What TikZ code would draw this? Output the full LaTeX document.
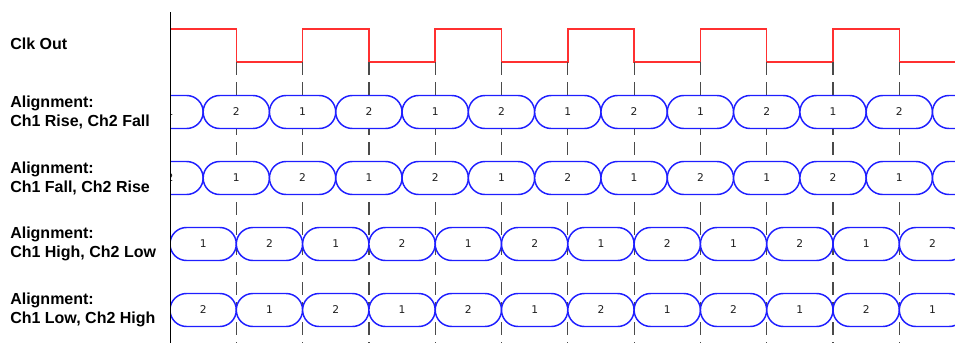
\documentclass[tikz,border=0pt]{standalone}
\usepackage{fontspec}
\setmainfont{Liberation Sans}
\newfontfamily\digitfont{DejaVu Sans}
\usetikzlibrary{shapes.misc}
\definecolor{clkred}{HTML}{FF3030}
\definecolor{ovalblue}{HTML}{1F1FFF}
\definecolor{dashgray}{HTML}{4A4A4A}
\definecolor{digitgray}{HTML}{1E1E1E}
\begin{document}
\begin{tikzpicture}[x=0.75pt,y=-0.75pt,
  lab/.style={anchor=west, align=left, inner sep=0pt, font=\fontsize{12}{14.25}\selectfont\bfseries},
  slot/.style={rounded rectangle, draw=ovalblue, line width=1.1pt, fill=white,
    minimum width=49.725pt, minimum height=24.75pt, inner sep=0pt,
    font=\digitfont\fontsize{8}{9}\selectfont, text=digitgray},
  clk/.style={draw=clkred, line width=1.1pt},
  guide/.style={draw=dashgray, line width=0.9pt, dash pattern=on 10pt off 5pt},
  axisline/.style={draw=black, line width=1.1pt}]
\useasboundingbox (0,0) rectangle (955,343);
\coordinate (bot) at (0,343);
\foreach \k in {0,...,10} {
  \coordinate (e\k) at ({236.3+66.3*\k},62);
  \coordinate (h\k) at ({236.3+66.3*\k},29);
}
% labels
\node[lab] (clklab) at (10,44) {Clk Out};
\node[lab] (l1) at (10,112) {Alignment:\\Ch1 Rise, Ch2 Fall};
\node[lab] (l2) at (10,178) {Alignment:\\Ch1 Fall, Ch2 Rise};
\node[lab] (l3) at (10,244) {Alignment:\\Ch1 High, Ch2 Low};
\node[lab] (l4) at (10,310) {Alignment:\\Ch1 Low, Ch2 High};
% clock
\coordinate (cstart) at (170.7,29);
\coordinate (cend) at (955,62);
\draw[clk] (cstart) -| (e0) -| (h1) -| (e2) -| (h3) -| (e4) -| (h5) -| (e6) -| (h7) -| (e8) -| (h9) -| (e10) -- (cend);
\begin{scope}
\clip (170.5,0) rectangle (955,343);
\foreach \k in {0,...,10} \draw[guide] (e\k) -- (e\k |- bot);
\foreach \k in {-1,...,10} {
  \pgfmathtruncatemacro\la{2-mod(\k+2,2)}
  \pgfmathtruncatemacro\lb{1+mod(\k+2,2)}
  \node[slot] (ra\k) at ({236.3+66.3*\k},112) {\la};
  \node[slot] (rb\k) at ({236.3+66.3*\k},178) {\lb};
}
\node[slot] (ra11) at ({236.3+66.3*11},112) {};
\node[slot] (rb11) at ({236.3+66.3*11},178) {};
\foreach \k in {0,...,11} {
  \pgfmathtruncatemacro\lc{1+mod(\k,2)}
  \pgfmathtruncatemacro\ld{2-mod(\k,2)}
  \node[slot] (rc\k) at ({236.3+66.3*\k-33.15},244) {\lc};
  \node[slot] (rd\k) at ({236.3+66.3*\k-33.15},310) {\ld};
}
\end{scope}
\coordinate (axtop) at (170.5,12);
\coordinate (axbot) at (170.5,343);
\draw[axisline] (axtop) -- (axbot);
\end{tikzpicture}
\end{document}
